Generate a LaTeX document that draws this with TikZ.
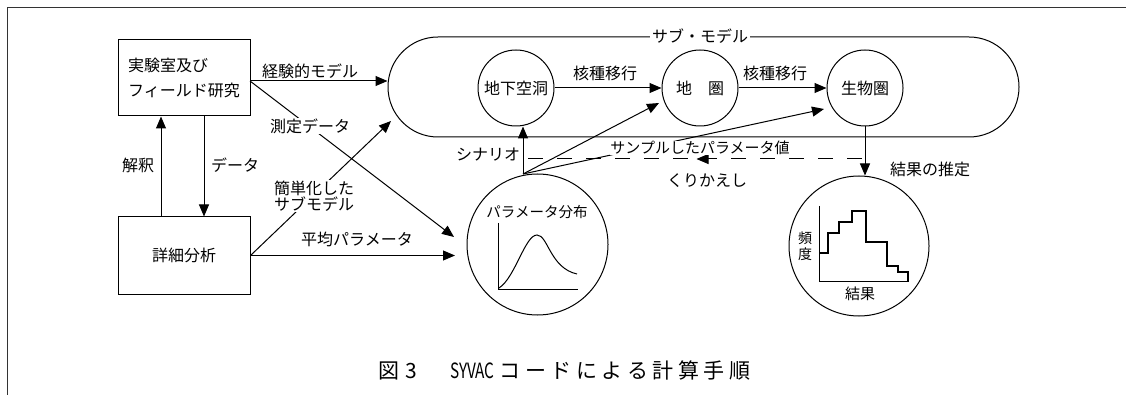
\documentclass[tikz,border=0pt]{standalone}
\usepackage{fontspec}
\setmainfont{Noto Sans CJK JP}
\usetikzlibrary{arrows.meta,decorations.markings}
\newcommand\fsz[1]{\fontsize{#1}{#1}\selectfont}
\begin{document}
\begin{tikzpicture}[x=1pt,y=-1pt,line width=1pt,
  arr/.style={-{Triangle[length=12pt,width=10pt]}},
  box/.style={draw,minimum width=132pt,inner sep=0pt},
  ring/.style={draw,circle,minimum size=76pt,inner sep=0pt,font=\fsz{16}},
  lbl/.style={inner sep=1pt,font=\fsz{16}},
  wlbl/.style={lbl,fill=white},
  loop/.style={dash pattern=on 15pt off 14pt}]
\useasboundingbox (0,0) rectangle (1126,395);
% frame
\draw[black!80,line width=1pt] (1126,8) -- (7,8) -- (7,395);
% boxes
\node[box,minimum height=76pt,align=left,font=\fontsize{16}{25}\selectfont] (lab) at (184,78) {実験室及び\\フィールド研究};
\node[box,minimum height=77pt,font=\fsz{16}] (det) at (184,255.5) {詳細分析};
% sub-model stadium
\node[draw,minimum width=631pt,minimum height=100pt,rounded corners=50pt,inner sep=0pt] (sub) at (703.5,87) {};
\node[wlbl,inner sep=2pt] (subl) at (700,36) {サブ・モデル};
% circles
\node[ring] (c1) at (516,88) {地下空洞};
\node[ring] (c2) at (700,88) {地　圏};
\node[ring] (c3) at (865,88) {生物圏};
\node[draw,circle,minimum size=141pt,inner sep=0pt] (pd) at (537.5,244.5) {};
\node[draw,circle,minimum size=140pt,inner sep=0pt] (res) at (859,246) {};
% coordinates
\coordinate (o1) at (250,81);
\coordinate (m1) at (454,237);
\coordinate (m2) at (455,255.5);
\coordinate (m3) at (391,121);
\coordinate (x1) at (161,0);
\coordinate (x2) at (204,0);
\coordinate (P) at (523,174);
\coordinate (t2) at (659,103);
\coordinate (t3) at (824,109);
\coordinate (d1) at (865,159);
\coordinate (d2) at (528,159);
% left connectors
\draw[arr] (o1) -- (o1 -| sub.west);
\draw[arr] (o1) -- (m1);
\draw[arr] (det.east) -- (m2);
\draw[arr] (det.east) -- (m3);
\draw[arr] (det.north -| x1) -- (lab.south -| x1);
\draw[arr] (lab.south -| x2) -- (det.north -| x2);
% sub-model connectors
\draw[arr] (c1) -- (c2);
\draw[arr] (c2) -- (c3);
\draw[arr] (c3.south) -- (c3.south |- res.north);
% scenario
\draw[arr] (P) -- (P |- c1.south);
\draw[arr] (P) -- (t2);
\draw[arr] (P) -- (t3);
\draw[loop,postaction={decorate},decoration={markings,mark=at position 0.5 with {\arrowreversed[line width=1pt]{Triangle[length=12pt,width=10pt]}}}] (d2) -- (d1);
% labels
\node[lbl] (l1) at (310,71) {経験的モデル};
\node[wlbl] (l2) at (310,126) {測定データ};
\node[wlbl,align=center,font=\fontsize{16}{16.5}\selectfont] (l3) at (314,196) {簡単化した\\サブモデル};
\node[lbl] (l4) at (357,239) {平均パラメータ};
\node[lbl] (l5) at (138,165) {解釈};
\node[lbl] (l6) at (235,165) {データ};
\node[lbl] (l7) at (605,73) {核種移行};
\node[lbl] (l8) at (775,73) {核種移行};
\node[lbl] (l9) at (930,169) {結果の推定};
\node[lbl] (l10) at (488,155) {シナリオ};
\node[lbl,fill=white,inner sep=0.5pt,font=\fsz{15}] (l11) at (700,148) {サンプルしたパラメータ値};
\node[lbl] (l12) at (707,181) {くりかえし};
% parameter distribution
\node[inner sep=0pt,font=\fsz{14.5}] (pdl) at (537,212) {パラメータ分布};
\draw (498,223) -- (498,289) -- (578,289);
\draw (499,288) .. controls (515,278) and (525,235) .. (537,235) .. controls (548,235) and (550,268) .. (577,274);
% result histogram
\node[inner sep=0pt,align=center,font=\fontsize{14}{16}\selectfont] (fr) at (805,246) {頻\\度};
\node[inner sep=0pt,font=\fsz{15}] (rs) at (860,294) {結果};
\draw (819,206) -- (819,281) -- (909,281);
\draw[line width=1.2pt] (819,253) -- (828,253) -- (828,233) -- (839,233) -- (839,222) -- (852,222) -- (852,211) -- (866,211) -- (866,242) -- (887,242) -- (887,266) -- (898,266) -- (898,272) -- (908,272) -- (908,281);
% caption
\node[anchor=west,inner sep=0pt,font=\fsz{21}] (cap) at (378,370) {図\kern6pt 3\kern33pt\scalebox{0.73}[1]{SYVAC}\kern5pt コ\kern4.5ptー\kern4.5ptド\kern4.5ptに\kern4.5ptよ\kern4.5ptる\kern4.5pt 計\kern4.5pt 算\kern4.5pt 手\kern4.5pt 順};
\end{tikzpicture}
\end{document}
